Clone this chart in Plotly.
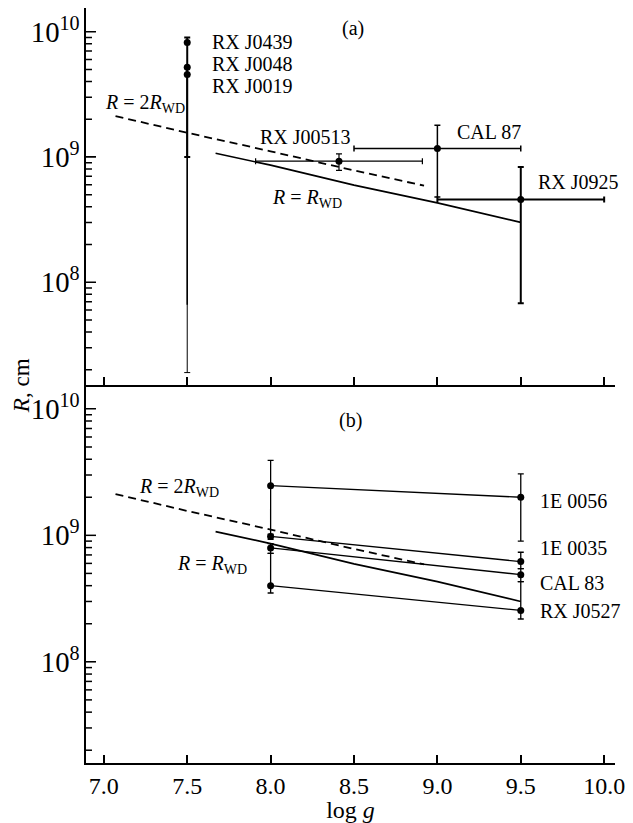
import plotly.graph_objects as go

FONT = "Liberation Serif, Times New Roman, Times, serif"

# ---------------- data ----------------
# theory curves (same in both panels)
rwd_x = [7.67, 8.0, 8.5, 9.0, 9.5]
rwd_y = [1.07e9, 8.6e8, 5.95e8, 4.3e8, 3.0e8]
r2wd_x = [7.07, 7.5, 8.0, 8.5, 8.92]
r2wd_y = [2.12e9, 1.56e9, 1.11e9, 7.8e8, 5.9e8]

# panel (a): objects with single log g estimates
a_names = ["RX J0439", "RX J0048", "RX J0019", "RX J00513", "CAL 87", "RX J0925"]
a_x = [7.5, 7.5, 7.5, 8.41, 9.0, 9.5]
a_y = [8.2e9, 5.2e9, 4.55e9, 9.25e8, 1.17e9, 4.57e8]
a_y_hi = [9.0e9, 5.2e9, 4.55e9, 1.06e9, 1.79e9, 8.3e8]
a_y_lo = [1.0e9, 6.6e7, 1.9e7, 7.8e8, 4.8e8, 6.8e7]
a_x_lo = [7.5, 7.5, 7.5, 7.91, 8.5, 9.0]
a_x_hi = [7.5, 7.5, 7.5, 8.91, 9.5, 10.0]
a_bar_w = [2, 1.5, 1, 1.2, 1.5, 2]
a_cap = [3, 0, 3, 3, 3, 3]

# panel (b): objects with two log g values
b_names = ["1E 0056", "1E 0035", "CAL 83", "RX J0527"]
b_x = [8.0, 9.5]
b_y = {
    "1E 0056": [2.47e9, 2.0e9],
    "1E 0035": [9.8e8, 6.2e8],
    "CAL 83": [7.95e8, 4.89e8],
    "RX J0527": [4.0e8, 2.55e8],
}
b_y_hi = {
    "1E 0056": [3.92e9, 3.06e9],
    "1E 0035": [1.02e9, 7.35e8],
    "CAL 83": [8.6e8, 5.45e8],
    "RX J0527": [7.2e8, 4.3e8],
}
b_y_lo = {
    "1E 0056": [9.8e8, 9.0e8],
    "1E 0035": [9.3e8, 5.45e8],
    "CAL 83": [7.2e8, 4.3e8],
    "RX J0527": [3.5e8, 2.18e8],
}

# label positions (log g, log10 R)
a_label_pos = {
    "RX J0439": (7.635, 9.916, "left"),
    "RX J0048": (7.635, 9.743, "left"),
    "RX J0019": (7.635, 9.563, "left"),
    "RX J00513": (8.208, 9.159, "center"),
    "CAL 87": (9.308, 9.199, "center"),
    "RX J0925": (9.846, 8.80, "center"),
}
b_label_pos = {
    "1E 0056": (9.604, 9.269),
    "1E 0035": (9.604, 8.90),
    "CAL 83": (9.604, 8.623),
    "RX J0527": (9.604, 8.399),
}

x_ticks = [7.0, 7.5, 8.0, 8.5, 9.0, 9.5, 10.0]
y_decades = [1e8, 1e9, 1e10]

# ---------------- geometry ----------------
W, H = 633, 823
ML, MR, MT, MB = 86, 14, 8, 59
xrange_ = [6.893, 10.065]
ra = [7.178, 10.189]
rb = [7.2, 10.187]
split = 0.5004
px_per_x = (W - ML - MR) / (xrange_[1] - xrange_[0])

# ---------------- figure ----------------
fig = go.Figure()
black = "black"

for ya, xa in (("y", "x"), ("y2", "x2")):
    fig.add_trace(go.Scatter(x=rwd_x, y=rwd_y, mode="lines", xaxis=xa, yaxis=ya,
                             line=dict(color=black, width=1.7), showlegend=False))
    fig.add_trace(go.Scatter(x=r2wd_x, y=r2wd_y, mode="lines", xaxis=xa, yaxis=ya,
                             line=dict(color=black, width=1.8, dash="8px,5px"),
                             showlegend=False))

# panel (a) points
for i, n in enumerate(a_names):
    fig.add_trace(go.Scatter(
        x=[a_x[i]], y=[a_y[i]], mode="markers", xaxis="x2", yaxis="y2",
        marker=dict(color=black, size=7),
        error_y=dict(type="data", symmetric=False,
                     array=[a_y_hi[i] - a_y[i]], arrayminus=[a_y[i] - a_y_lo[i]],
                     color=black, thickness=a_bar_w[i], width=a_cap[i]),
        error_x=dict(type="data", symmetric=False,
                     array=[a_x_hi[i] - a_x[i]], arrayminus=[a_x[i] - a_x_lo[i]],
                     color=black, thickness=a_bar_w[i], width=3,
                     visible=(a_x_hi[i] > a_x_lo[i])),
        showlegend=False))

# panel (b) points
for n in b_names:
    ys = b_y[n]
    fig.add_trace(go.Scatter(
        x=b_x, y=ys, mode="lines+markers", xaxis="x", yaxis="y",
        line=dict(color=black, width=1.3),
        marker=dict(color=black, size=7),
        error_y=dict(type="data", symmetric=False,
                     array=[h - v for h, v in zip(b_y_hi[n], ys)],
                     arrayminus=[v - l for l, v in zip(b_y_lo[n], ys)],
                     color=black, thickness=1.3, width=3),
        showlegend=False))

# inward y tick marks along the left axis (major 10 px, minor 6 px)
def tick_marks(xa, ya, rng):
    lo, hi = 10 ** rng[0], 10 ** rng[1]
    major = [v for v in y_decades if lo <= v <= hi]
    minor = [m * 10 ** e for e in range(6, 11) for m in range(2, 10)
             if lo <= m * 10 ** e <= hi]
    for vals, length in ((major, 10), (minor, 6)):
        xpos = xrange_[0] + (length / 2) / px_per_x
        fig.add_trace(go.Scatter(
            x=[xpos] * len(vals), y=vals, mode="markers", xaxis=xa, yaxis=ya,
            marker=dict(symbol="line-ew", size=length / 1.4,
                        line=dict(width=1.5, color=black)),
            showlegend=False, hoverinfo="skip"))

tick_marks("x", "y", rb)
tick_marks("x2", "y2", ra)

# ---------------- annotations ----------------
ann = []
afont = dict(family=FONT, size=20, color=black)
for n, (lx, ly, anc) in a_label_pos.items():
    ann.append(dict(x=lx, y=ly, xref="x2", yref="y2", text=n, showarrow=False,
                    xanchor=anc, yanchor="middle", font=afont))
for n, (lx, ly) in b_label_pos.items():
    ann.append(dict(x=lx, y=ly, xref="x", yref="y", text=n, showarrow=False,
                    xanchor="left", yanchor="middle", font=afont))

r2 = "<i>R</i> = 2<i>R</i><sub>WD</sub>"
r1 = "<i>R</i> = <i>R</i><sub>WD</sub>"
ann += [
    dict(x=7.244, y=9.43, xref="x2", yref="y2", text=r2, showarrow=False, font=afont),
    dict(x=8.22, y=8.669, xref="x2", yref="y2", text=r1, showarrow=False, font=afont),
    dict(x=7.452, y=9.375, xref="x", yref="y", text=r2, showarrow=False, font=afont),
    dict(x=7.651, y=8.768, xref="x", yref="y", text=r1, showarrow=False, font=afont),
    dict(x=8.493, y=10.025, xref="x2", yref="y2", text="(a)", showarrow=False, font=afont),
    dict(x=8.481, y=9.907, xref="x", yref="y", text="(b)", showarrow=False, font=afont),
    dict(x=-0.123, y=split, xref="paper", yref="paper", text="<i>R</i>, cm",
         textangle=-90, showarrow=False, xanchor="center", yanchor="middle",
         font=dict(family=FONT, size=23, color=black)),
]

tickfont = dict(family=FONT, size=23, color=black)
xfont = dict(family=FONT, size=24, color=black)

common_x = dict(range=xrange_, showline=True, linecolor=black, linewidth=1.5,
                ticks="inside", ticklen=8, tickwidth=1.5, tickcolor=black,
                tickvals=x_ticks, showgrid=False, zeroline=False)
common_y = dict(type="log", showline=True, linecolor=black, linewidth=1.5,
                ticks="inside", ticklen=10, tickcolor=black,
                dtick=1, exponentformat="power", showexponent="all",
                tickfont=tickfont, showgrid=False, zeroline=False)

fig.update_layout(
    width=W, height=H,
    margin=dict(l=ML, r=MR, t=MT, b=MB),
    paper_bgcolor="white", plot_bgcolor="white",
    font=dict(family=FONT, color=black),
    showlegend=False,
    xaxis=dict(**common_x, anchor="y", domain=[0, 1],
               ticktext=[f"{v:.1f}" for v in x_ticks], tickfont=xfont,
               title=dict(text="log <i>g</i>", font=xfont, standoff=0)),
    xaxis2=dict(**common_x, anchor="y2", domain=[0, 1], matches="x",
                showticklabels=False),
    yaxis=dict(**common_y, domain=[0, split], range=rb, anchor="x"),
    yaxis2=dict(**common_y, domain=[split, 1], range=ra, anchor="x2"),
    annotations=ann,
)

fig.write_html("out.html")
